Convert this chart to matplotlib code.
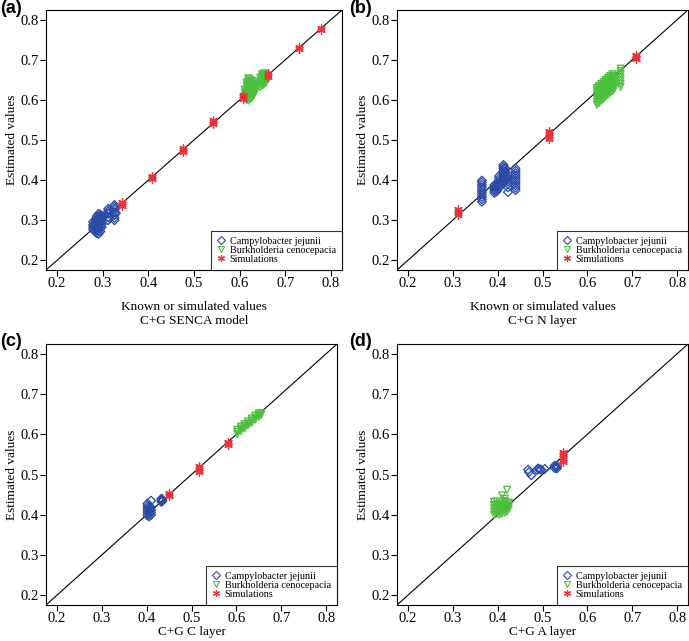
import matplotlib
matplotlib.use("Agg")
import matplotlib.pyplot as plt
from matplotlib.lines import Line2D

# ---------------- data (columns: x value -> list of y values) ----------------
campy_a = [(0.279, [0.277, 0.283, 0.289, 0.296]),
           (0.283, [0.272, 0.279, 0.286, 0.292, 0.300]),
           (0.287, [0.268, 0.275, 0.282, 0.289, 0.296, 0.303, 0.310]),
           (0.291, [0.266, 0.273, 0.280, 0.288, 0.295, 0.302, 0.309, 0.316]),
           (0.295, [0.272, 0.280, 0.287, 0.294, 0.301, 0.308, 0.314]),
           (0.298, [0.283, 0.290, 0.298, 0.305, 0.311]),
           (0.312, [0.300, 0.308, 0.316, 0.322, 0.328]),
           (0.315, [0.305, 0.318, 0.325]),
           (0.326, [0.300, 0.306, 0.313, 0.320, 0.327, 0.333, 0.338]),
           (0.329, [0.318, 0.330])]
burk_a = [(0.611, [0.603, 0.610, 0.618, 0.625]),
          (0.615, [0.600, 0.607, 0.614, 0.621, 0.628, 0.636, 0.643]),
          (0.619, [0.598, 0.605, 0.612, 0.619, 0.626, 0.633, 0.640, 0.648, 0.654]),
          (0.623, [0.602, 0.609, 0.616, 0.623, 0.630, 0.637, 0.644, 0.651]),
          (0.627, [0.605, 0.612, 0.619, 0.626, 0.633, 0.640, 0.647]),
          (0.631, [0.612, 0.620, 0.628, 0.636, 0.643]),
          (0.635, [0.622, 0.630, 0.638]),
          (0.645, [0.632, 0.640, 0.648, 0.655]),
          (0.649, [0.635, 0.643, 0.651, 0.658, 0.664]),
          (0.653, [0.638, 0.646, 0.654, 0.661, 0.666]),
          (0.657, [0.642, 0.650, 0.658, 0.665]),
          (0.661, [0.650, 0.658])]
sim_a = [(0.343, [0.336, 0.340, 0.346]),
         (0.408, [0.403, 0.407, 0.410]),
         (0.476, [0.469, 0.474, 0.479]),
         (0.542, [0.540, 0.545, 0.551]),
         (0.607, [0.602, 0.607, 0.612]),
         (0.661, [0.656, 0.661, 0.667]),
         (0.729, [0.727, 0.731]),
         (0.778, [0.775, 0.779])]

campy_b = [(0.365, [0.346, 0.352, 0.358, 0.364, 0.370, 0.376, 0.382, 0.388, 0.394, 0.399]),
           (0.393, [0.368, 0.373, 0.378, 0.383, 0.388]),
           (0.398, [0.372, 0.378, 0.384, 0.390]),
           (0.403, [0.380, 0.386, 0.392, 0.398, 0.404, 0.410]),
           (0.413, [0.392, 0.398, 0.404, 0.410, 0.416, 0.422, 0.428, 0.433, 0.438]),
           (0.417, [0.400, 0.410, 0.420, 0.430]),
           (0.423, [0.370, 0.382, 0.390, 0.396, 0.402, 0.408, 0.414]),
           (0.440, [0.375, 0.381, 0.387, 0.393, 0.399, 0.405, 0.411, 0.417, 0.423, 0.429])]
burk_b = [(0.621, [0.588, 0.595, 0.603, 0.610, 0.617, 0.624, 0.630]),
          (0.626, [0.592, 0.600, 0.608, 0.615, 0.622, 0.629, 0.635]),
          (0.631, [0.598, 0.606, 0.613, 0.620, 0.627, 0.634, 0.640]),
          (0.636, [0.602, 0.610, 0.617, 0.624, 0.631, 0.638, 0.645]),
          (0.641, [0.608, 0.615, 0.622, 0.629, 0.636, 0.643, 0.650]),
          (0.646, [0.612, 0.620, 0.627, 0.634, 0.641, 0.648, 0.655]),
          (0.651, [0.618, 0.625, 0.632, 0.639, 0.646, 0.653, 0.660]),
          (0.656, [0.622, 0.630, 0.637, 0.644, 0.651, 0.658, 0.664]),
          (0.660, [0.628, 0.636, 0.644, 0.652, 0.660]),
          (0.674, [0.632, 0.640, 0.648, 0.656, 0.664, 0.672, 0.678])]
sim_b = [(0.312, [0.313, 0.318, 0.322, 0.327]),
         (0.514, [0.503, 0.508, 0.513, 0.518, 0.523]),
         (0.708, [0.701, 0.705, 0.709, 0.713])]

campy_c = [(0.402, [0.398, 0.404, 0.410, 0.416, 0.422, 0.428]),
           (0.406, [0.396, 0.402, 0.408, 0.414, 0.420]),
           (0.410, [0.400, 0.406, 0.412, 0.418, 0.435]),
           (0.433, [0.432, 0.436, 0.440]),
           (0.435, [0.434, 0.438])]
burk_c = [(0.602, [0.600, 0.606, 0.611]),
          (0.610, [0.608, 0.614, 0.619]),
          (0.618, [0.614, 0.620, 0.625]),
          (0.626, [0.622, 0.627, 0.632]),
          (0.634, [0.628, 0.634, 0.639]),
          (0.642, [0.636, 0.641, 0.646]),
          (0.650, [0.643, 0.648, 0.652]),
          (0.655, [0.648, 0.652])]
sim_c = [(0.451, [0.446, 0.450, 0.454]),
         (0.517, [0.507, 0.512, 0.517, 0.520]),
         (0.581, [0.573, 0.577, 0.581])]

campy_d = [(0.468, [0.512]), (0.470, [0.506]), (0.475, [0.498]),
           (0.488, [0.511]), (0.490, [0.515]), (0.494, [0.513]),
           (0.497, [0.512]), (0.505, [0.514]),
           (0.527, [0.516, 0.522]), (0.529, [0.520]), (0.531, [0.518]),
           (0.533, [0.521]), (0.532, [0.515])]
burk_d = [(0.392, [0.400, 0.408, 0.416, 0.424, 0.432]),
          (0.398, [0.402, 0.410, 0.418, 0.426, 0.433]),
          (0.404, [0.400, 0.408, 0.416, 0.424, 0.432]),
          (0.410, [0.403, 0.410, 0.418, 0.425, 0.432, 0.448]),
          (0.416, [0.405, 0.412, 0.420, 0.428, 0.434, 0.440]),
          (0.421, [0.408, 0.415, 0.422, 0.430, 0.462]),
          (0.425, [0.415, 0.422, 0.430])]
sim_d = [(0.545, [0.532, 0.537, 0.542, 0.547, 0.552, 0.556])]

panel_letters = ["(a)", "(b)", "(c)", "(d)"]
subtitles = ["C+G SENCA model", "C+G N layer", "C+G C layer", "C+G A layer"]
xlabel_text = "Known or simulated values"
ylabel_text = "Estimated values"
legend_labels = ["Campylobacter jejunii", "Burkholderia cenocepacia", "Simulations"]
ticks = [0.2, 0.3, 0.4, 0.5, 0.6, 0.7, 0.8]

BLUE = "#2a4aa8"
GREEN = "#4cbf3c"
RED = "#e8323c"

SERIF = ["Liberation Serif", "DejaVu Serif"]
plt.rcParams["font.family"] = SERIF


def expand(cols):
    xs, ys = [], []
    for x, yl in cols:
        for y in yl:
            xs.append(x)
            ys.append(y)
    return xs, ys


fig = plt.figure(figsize=(6.89, 6.41), dpi=100)
W, H = 689, 641
rects = [(46, 10, 296, 260), (397, 10, 291, 260),
         (46, 344, 291, 261), (397, 344, 291, 261)]
letter_pos = [(0, 0), (349, 0), (0, 333), (349, 333)]
datasets = [(campy_a, burk_a, sim_a), (campy_b, burk_b, sim_b),
            (campy_c, burk_c, sim_c), (campy_d, burk_d, sim_d)]

for i, ((l, t, w, h), (cj, bc, sm)) in enumerate(zip(rects, datasets)):
    ax = fig.add_axes([l / W, 1 - (t + h) / H, w / W, h / H])
    lo, hi = 0.176, 0.824
    ax.set_xlim(lo, hi)
    ax.set_ylim(lo, hi)
    ax.plot([lo, hi], [lo, hi], color="black", lw=0.8, zorder=1)
    x, y = expand(cj)
    ax.scatter(x, y, marker="D", s=20, facecolors="none", edgecolors=BLUE,
               linewidths=0.9, zorder=3)
    x, y = expand(bc)
    ax.scatter(x, y, marker="v", s=24, facecolors="none", edgecolors=GREEN,
               linewidths=0.9, zorder=2)
    x, y = expand(sm)
    ax.scatter(x, y, marker=(6, 2, 0), s=30, color=RED, linewidths=0.9, zorder=4)

    ax.set_xticks(ticks)
    ax.set_yticks(ticks)
    ax.set_xticklabels([f"{v:.1f}" for v in ticks])
    ax.set_yticklabels([f"{v:.1f}" for v in ticks])
    ax.tick_params(direction="out", length=4, width=0.8, labelsize=10.5, pad=1)
    for sp in ax.spines.values():
        sp.set_linewidth(0.8)
    ax.set_ylabel(ylabel_text, fontsize=9.5, labelpad=2)

    if i < 2:
        ax.set_xlabel(xlabel_text, fontsize=9.5, labelpad=8)
        fig.text((l + w / 2) / W, 1 - 321 / H, subtitles[i], ha="center",
                 va="center", fontsize=9.5)
    else:
        ax.set_xlabel(subtitles[i], fontsize=9.5, labelpad=1)

    handles = [Line2D([], [], ls="none", marker="D", ms=4, mfc="none",
                      mec=BLUE, mew=0.8),
               Line2D([], [], ls="none", marker="v", ms=4.5, mfc="none",
                      mec=GREEN, mew=0.8),
               Line2D([], [], ls="none", marker=(6, 2, 0), ms=5,
                      color=RED, mew=0.9)]
    leg = ax.legend(handles, legend_labels, loc="lower right", fontsize=7.3,
                    frameon=True, fancybox=False, borderaxespad=0,
                    handlelength=0.8, handletextpad=0.5, labelspacing=0.0,
                    borderpad=0.6)
    leg.get_frame().set_edgecolor("black")
    leg.get_frame().set_linewidth(0.8)

    lx, ly = letter_pos[i]
    fig.text(lx / W, 1 - ly / H, panel_letters[i], ha="left", va="top",
             fontsize=13, fontweight="bold",
             family=["Liberation Sans", "DejaVu Sans"])

fig.savefig("out.png", dpi=100)
